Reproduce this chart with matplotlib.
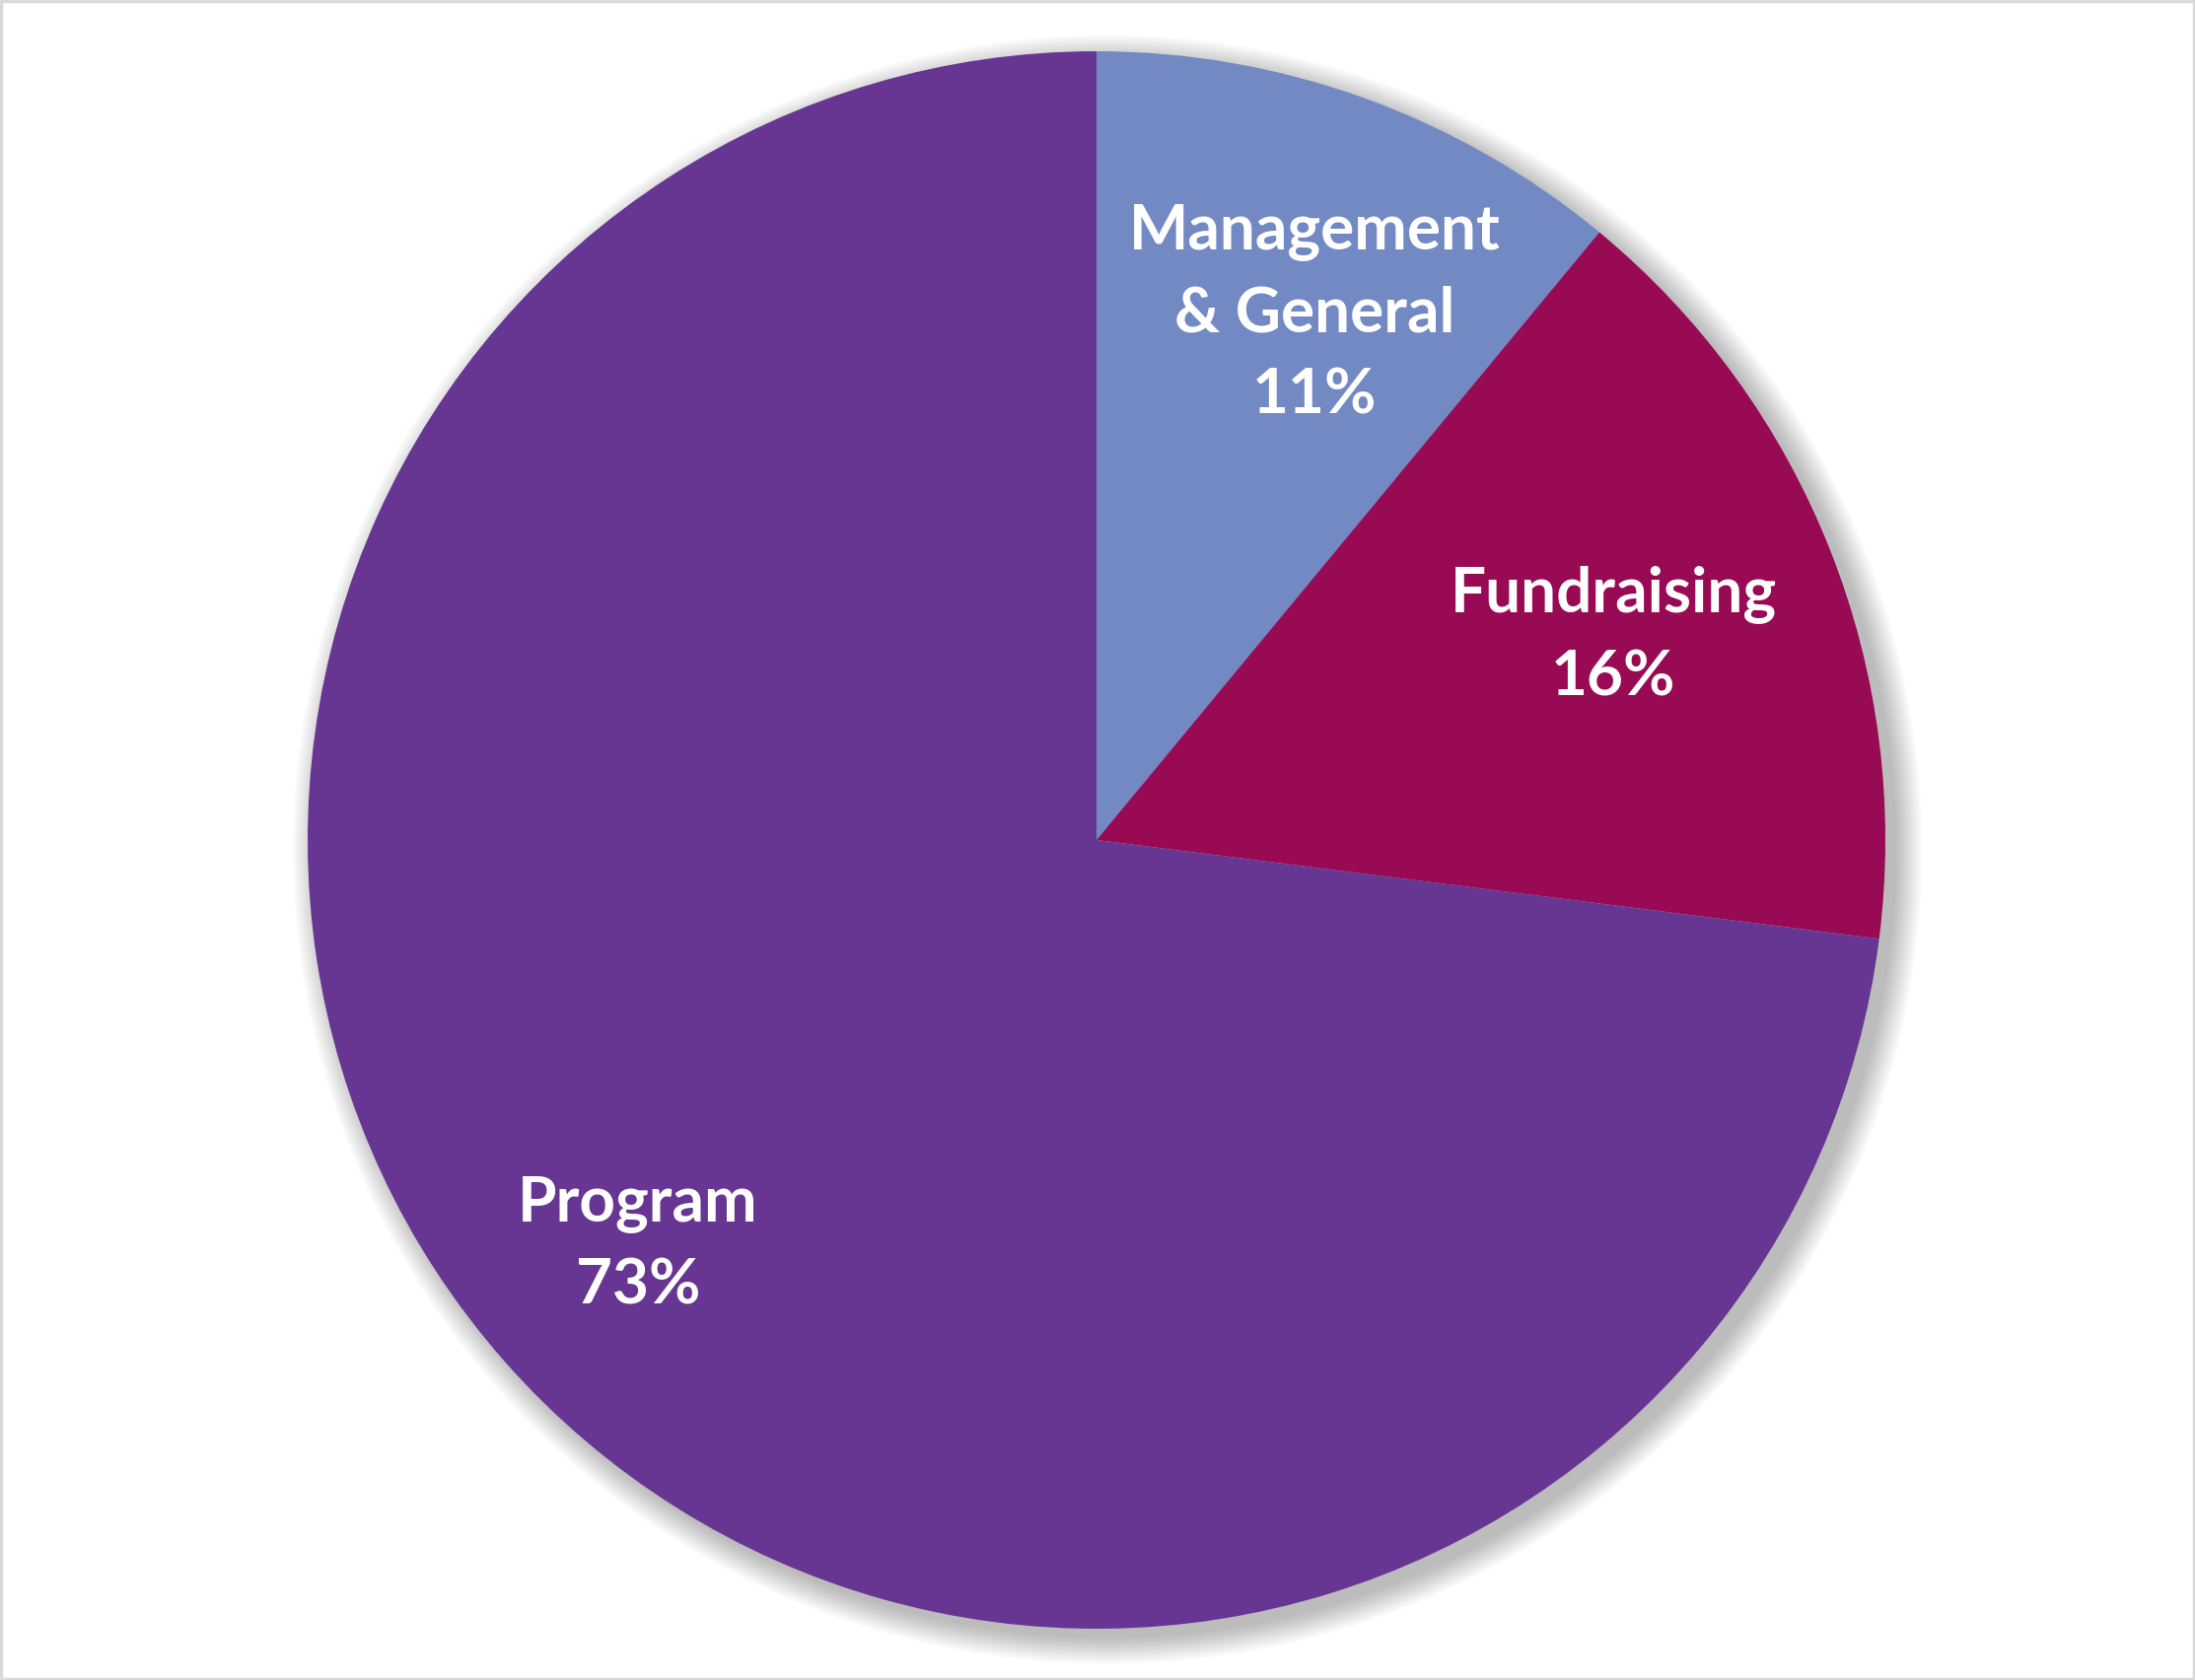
import numpy as np
import matplotlib.pyplot as plt
from matplotlib.patches import Circle, Rectangle

# data
labels = ['Management\n& General', 'Fundraising', 'Program']
values = [11, 16, 73]
colors = ['#7289c4', '#990a55', '#673692']

# label placement: radial distance and angle nudge (deg)
label_dist = [0.723, 0.705, 0.775]
label_nudge = [-2.7, 0, 0]

fig = plt.figure(figsize=(22.26, 17.04), dpi=100)
ax = fig.add_axes([0, 0, 1, 1])

# soft shadow behind the pie
for k in range(14):
    ax.add_patch(Circle((0.014, -0.012), 1.0 + k * 0.0025, color='#000000',
                        alpha=0.018, lw=0, zorder=0))

wedges, _ = ax.pie(values, colors=colors, startangle=90, counterclock=False,
                   radius=1.0, center=(0, 0), frame=True,
                   wedgeprops={'linewidth': 0})
# 800 px per data unit, pie centred at (1112, 852)
ax.set_xlim(-1112 / 800, (2226 - 1112) / 800)
ax.set_ylim(-852 / 800, 852 / 800)
ax.set_aspect('auto')
ax.axis('off')

for w, lab, v, d, n in zip(wedges, labels, values, label_dist, label_nudge):
    ang = np.deg2rad((w.theta1 + w.theta2) / 2 + n)
    ax.text(d * np.cos(ang), d * np.sin(ang), f'{lab}\n{v}%',
            ha='center', va='center', color='white', fontsize=46,
            fontweight='bold', family='Lato', linespacing=1.55, zorder=5)

# outer border
fig.patches.append(Rectangle((0.0005, 0.0007), 0.999, 0.9986, transform=fig.transFigure,
                             fill=False, edgecolor='#d9d9d9', lw=2.5))

fig.savefig('out.png', dpi=100, facecolor='white')
